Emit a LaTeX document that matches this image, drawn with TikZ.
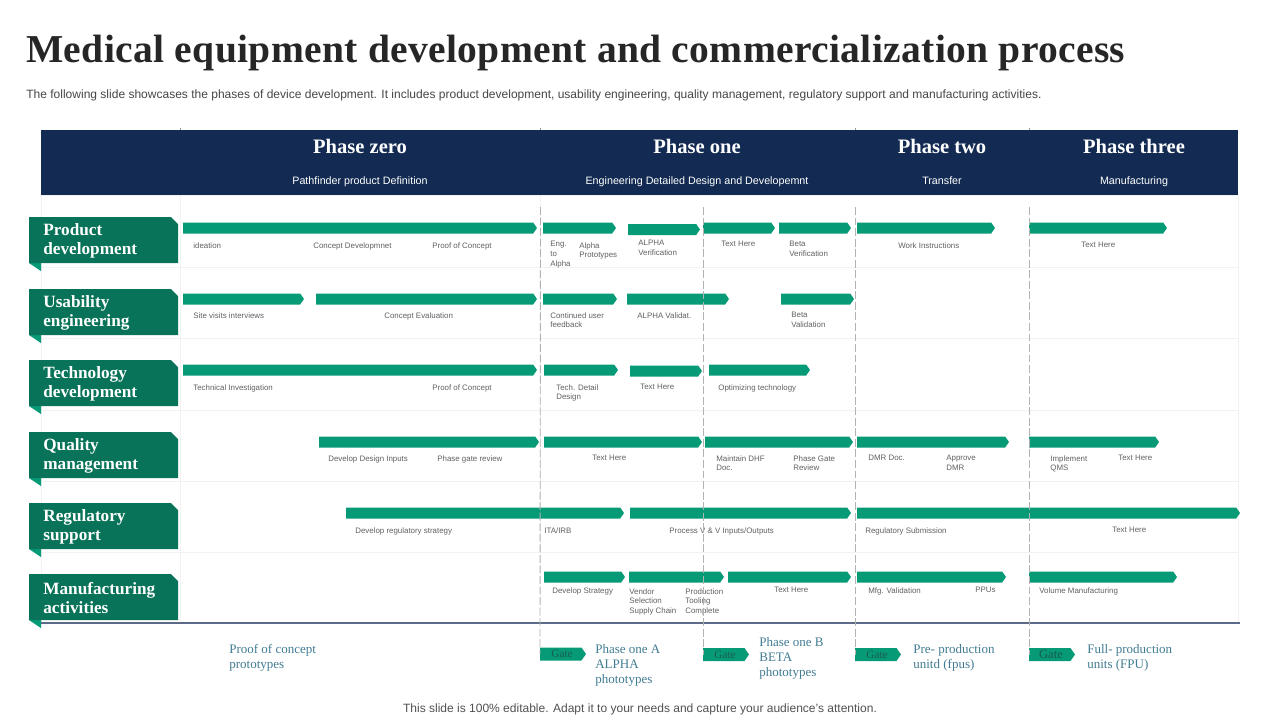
\documentclass[tikz,border=0pt]{standalone}
\usepackage{fontspec}
\setmainfont{Liberation Serif}
\setsansfont{Liberation Sans}
\newfontfamily\titlefont[LetterSpace=0.9]{Liberation Serif}
\usepackage{xcolor}
\usetikzlibrary{shapes.symbols}
\definecolor{navyhead}{HTML}{132B52}
\definecolor{tealbar}{HTML}{069A76}
\definecolor{greentag}{HTML}{087358}
\definecolor{gatetext}{HTML}{1B5C4E}
\definecolor{bluenote}{HTML}{427C93}
\definecolor{baseline}{HTML}{5B6B87}
\tikzset{
    barbase/.style={signal, signal to=east, signal pointer angle=110, fill=tealbar, draw=none, inner sep=0pt, outer sep=0pt, anchor=west},
    phasebar/.style={barbase, minimum height=0.22cm},
    gatebar/.style={barbase, minimum height=0.26cm},
    lbl/.style={font=\sffamily\fontsize{4.5}{5.5}\selectfont, text=black!62, inner sep=0pt, anchor=north west, align=left, yshift=-0.02cm},
    note/.style={font=\fontsize{7.4}{8.6}\selectfont, text=bluenote, inner sep=0pt, anchor=north west, align=left},
    phasehead/.style={font=\bfseries\fontsize{11.7}{11.7}\selectfont, text=white, inner sep=0pt, anchor=base},
    phasesub/.style={font=\sffamily\fontsize{6.1}{6.1}\selectfont, text=white, inner sep=0pt, anchor=base},
    tagtext/.style={font=\bfseries\fontsize{9.8}{10.9}\selectfont, text=white, inner sep=0pt, anchor=west, align=left},
    gatetxt/.style={font=\fontsize{6.4}{6.4}\selectfont, text=gatetext, inner sep=0pt},
    rowline/.style={draw=black!5, line width=0.4pt},
    gateline/.style={draw=black!30, line width=0.5pt, dash pattern=on 4.5pt off 1.5pt}
}
\newcommand{\phbar}[4]{\node[phasebar, minimum width={(#3-#2)*0.02cm}] (#1) at (#2,#4) {};}
\newcommand{\rowtag}[3]{
    \fill[tealbar] (29,#1+40) -- (41,#1+40) -- (41,#1+54) -- (29,#1+46) -- cycle;
    \fill[greentag] (29,#1) -- (171,#1) -- (178,#1+7) -- (178,#1+46) -- (29,#1+46) -- cycle;
    \node[tagtext] (#2) at (43,#1+24) {#3};
}
\begin{document}
\begin{tikzpicture}[x=0.02cm, y=-0.02cm]
\useasboundingbox (0,0) rectangle (1280,720);
\fill[white] (0,0) rectangle (1280,720);

\node[font=\titlefont\bfseries\fontsize{22.5}{22.5}\selectfont, text=black!85, inner sep=0pt, anchor=base west] (title) at (26,62) {Medical equipment development and commercialization process};
\node[font=\sffamily\fontsize{6.84}{6.84}\selectfont, text=black!72, inner sep=0pt, anchor=base west] (subtitle) at (26,98) {The following slide showcases the phases of device development. It includes product development, usability engineering, quality management, regulatory support and manufacturing activities.};

% grid
\foreach \yr in {195,267,338,410,481,552}
    \draw[rowline] (41,\yr) -- (1238,\yr);
\foreach \xr in {41,180,1238}
    \draw[rowline] (\xr,195) -- (\xr,623);
\draw[rowline] (540,195) -- (540,552);

% header
\fill[navyhead] (41,130) rectangle (1238,195);
\foreach \xr in {180,540,855,1029}
    \draw[draw=black!40, line width=0.3pt] (\xr,128) -- (\xr,130);
\node[phasehead] (ph0) at (360,153) {Phase zero};
\node[phasehead] (ph1) at (697,153) {Phase one};
\node[phasehead] (ph2) at (942,153) {Phase two};
\node[phasehead] (ph3) at (1134,153) {Phase three};
\node[phasesub] (sub0) at (360,184) {Pathfinder product Definition};
\node[phasesub] (sub1) at (697,184) {Engineering Detailed  Design and Developemnt};
\node[phasesub] (sub2) at (942,184) {Transfer};
\node[phasesub] (sub3) at (1134,184) {Manufacturing};

\draw[draw=baseline, line width=0.7pt] (41,623) -- (1240,623);

% row tags
\rowtag{217}{tagprod}{Product\\development}
\rowtag{289}{taguse}{Usability\\engineering}
\rowtag{360}{tagtech}{Technology\\development}
\rowtag{432}{tagqual}{Quality\\management}
\rowtag{503}{tagreg}{Regulatory\\support}
\rowtag{574}{tagman}{Manufacturing\\activities}

% product development
\phbar{pa}{183}{537}{228}
\phbar{pb}{543}{616}{228}
\phbar{pc}{628}{700}{229.5}
\phbar{pd}{703}{775}{228}
\phbar{pe}{779}{851}{228}
\phbar{pf}{857}{995}{228}
\phbar{pg}{1029}{1167}{228}
\node[lbl] (tpa) at (193,241) {ideation};
\node[lbl] (tpb) at (313,241) {Concept  Developmnet};
\node[lbl] (tpc) at (432,241) {Proof of Concept};
\node[lbl] (tpd) at (550,240) {Eng.\\to\\Alpha};
\node[lbl] (tpe) at (579,241) {Alpha\\Prototypes};
\node[lbl] (tpf) at (638,239) {ALPHA\\Verification};
\node[lbl] (tpg) at (721,240) {Text Here};
\node[lbl] (tph) at (789,240) {Beta\\Verification};
\node[lbl] (tpi) at (898,241) {Work Instructions};
\node[lbl] (tpj) at (1081,241) {Text Here};

% usability engineering
\phbar{ua}{183}{304}{299}
\phbar{ub}{316}{537}{299}
\phbar{uc}{543}{617}{299}
\phbar{ud}{627}{729}{299}
\phbar{ue}{781}{854}{299}
\node[lbl] (tua) at (193,311) {Site visits interviews};
\node[lbl] (tub) at (384,311) {Concept  Evaluation};
\node[lbl] (tuc) at (550,311) {Continued  user\\feedback};
\node[lbl] (tud) at (637,311) {ALPHA Validat.};
\node[lbl] (tue) at (791,311) {Beta\\Validation};

% technology development
\phbar{ta}{183}{537}{370}
\phbar{tb}{544}{618}{370}
\phbar{tc}{630}{702}{371}
\phbar{td}{709}{810}{370}
\node[lbl] (tta) at (193,383) {Technical  Investigation};
\node[lbl] (ttb) at (432,383) {Proof of Concept};
\node[lbl] (ttc) at (556,383) {Tech. Detail\\Design};
\node[lbl] (ttd) at (640,383) {Text Here};
\node[lbl] (tte) at (718,383) {Optimizing technology};

% quality management
\phbar{qa}{319}{539}{442}
\phbar{qb}{544}{702}{442}
\phbar{qc}{705}{853}{442}
\phbar{qd}{857}{1009}{442}
\phbar{qe}{1029}{1159}{442}
\node[lbl] (tqa) at (328,454) {Develop Design Inputs};
\node[lbl] (tqb) at (437,454) {Phase  gate  review};
\node[lbl] (tqc) at (592,454) {Text Here};
\node[lbl] (tqd) at (716,454) {Maintain  DHF\\Doc.};
\node[lbl] (tqe) at (793,454) {Phase Gate\\Review};
\node[lbl] (tqf) at (868,454) {DMR Doc.};
\node[lbl] (tqg) at (946,454) {Approve\\DMR};
\node[lbl] (tqh) at (1050,454) {Implement\\QMS};
\node[lbl] (tqi) at (1118,454) {Text Here};

% regulatory support
\phbar{ra}{346}{624}{513}
\phbar{rb}{630}{851}{513}
\phbar{rc}{857}{1240}{513}
\node[lbl] (tra) at (355,526) {Develop regulatory strategy};
\node[lbl] (trb) at (544,526) {ITA/IRB};
\node[lbl] (trc) at (669,526) {Process V \& V Inputs/Outputs};
\node[lbl] (trd) at (865,526) {Regulatory  Submission};
\node[lbl] (tre) at (1112,526) {Text Here};

% manufacturing activities
\phbar{ma}{544}{625}{577}
\phbar{mb}{629}{724}{577}
\phbar{mc}{728}{851}{577}
\phbar{md}{857}{1006}{577}
\phbar{me}{1029}{1177}{577}
\node[lbl] (tma) at (552,586) {Develop Strategy};
\node[lbl] (tmb) at (629,587) {Vendor\\Selection\\Supply  Chain};
\node[lbl] (tmc) at (685,587) {Production\\Tooling\\Complete};
\node[lbl] (tmd) at (774,586) {Text Here};
\node[lbl] (tme) at (868,586) {Mfg. Validation};
\node[lbl] (tmf) at (975,586) {PPUs};
\node[lbl] (tmg) at (1039,586) {Volume Manufacturing};

% gates
\node[gatebar, minimum width={46*0.02cm}] (gatea) at (540,654) {};
\node[gatebar, minimum width={46*0.02cm}] (gateb) at (703,654.5) {};
\node[gatebar, minimum width={46*0.02cm}] (gatec) at (855,654.5) {};
\node[gatebar, minimum width={46*0.02cm}] (gated) at (1029,654.5) {};
\draw[gateline] (540.5,207) -- (gatea.west);
\draw[gateline] (703,207) -- (gateb.west);
\draw[gateline] (855,207) -- (gatec.west);
\draw[gateline] (1029,207) -- (gated.west);
\node[gatetxt] (gta) at (562,654) {Gate};
\node[gatetxt] (gtb) at (725,654.5) {Gate};
\node[gatetxt] (gtc) at (877,654.5) {Gate};
\node[gatetxt, font=\fontsize{7.2}{7.2}\selectfont] (gtd) at (1051,654) {Gate};

% notes
\node[note] (nta) at (229,644) {Proof of concept\\prototypes};
\node[note] (ntb) at (595,644) {Phase one A\\ALPHA\\phototypes};
\node[note] (ntc) at (759,637) {Phase one B\\BETA\\phototypes};
\node[note] (ntd) at (913,644) {Pre- production\\unitd (fpus)};
\node[note] (nte) at (1087,644) {Full- production\\units (FPU)};

\node[font=\sffamily\fontsize{6.84}{6.84}\selectfont, text=black!68, inner sep=0pt, anchor=base] (foot) at (640,712) {This slide is 100\% editable. Adapt it to your needs and capture your audience's attention.};
\end{tikzpicture}
\end{document}
